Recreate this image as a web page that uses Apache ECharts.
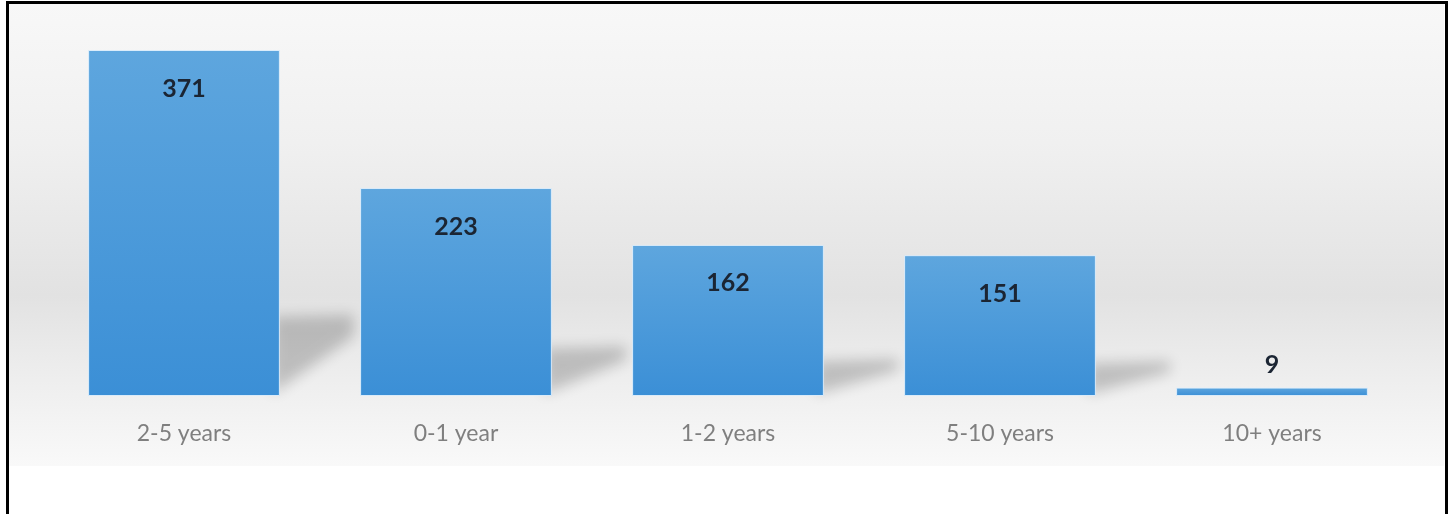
<!DOCTYPE html>
<html>
<head>
<meta charset="utf-8">
<script src="https://cdn.jsdelivr.net/npm/echarts@6/dist/echarts.min.js"></script>
<style>
  html, body { margin: 0; padding: 0; width: 1452px; height: 514px; overflow: hidden; background: #fff; }
  .frame {
    position: absolute; left: 6px; top: 1px; width: 1436px; height: 600px;
    border: 3px solid #000; box-sizing: content-box;
  }
  .panel {
    position: absolute; left: 9px; top: 4px; width: 1435px; height: 462px;
    background: linear-gradient(to bottom, #f8f8f8 0%, #f0f0f0 30%, #e2e2e2 63%, #ececec 78%, #f9f9f9 100%);
  }
  #chart { position: absolute; left: 0; top: 0; width: 1452px; height: 514px; }
</style>
</head>
<body>
<div class="panel"></div>
<div class="frame"></div>
<div id="chart"></div>
<script>
  // tenure buckets and counts
  const categories = ['2-5 years', '0-1 year', '1-2 years', '5-10 years', '10+ years'];
  const counts = [371, 223, 162, 151, 9];

  const chart = echarts.init(document.getElementById('chart'));

  // soft diagonal shadow to the right of each bar
  // (shape drawn off to the left, only its blurred shadow lands in place)
  const SHIFT = 3000;
  function renderShadow(params, api) {
    const val = api.value(1);
    const base = api.coord([api.value(0), 0]);
    const top = api.coord([api.value(0), val]);
    const bw = api.size([1, 0])[0] * 0.705;
    const xr = base[0] + bw / 2 - 8 - SHIFT;
    const h = base[1] - top[1];
    const sh = h * 0.23;
    if (sh < 6) return null;
    return {
      type: 'polygon',
      shape: {
        points: [
          [xr, base[1] - 2],
          [xr, base[1] - sh],
          [xr + 82, base[1] - sh - 2],
          [xr + 82, base[1] - sh * 0.75],
        ],
      },
      style: {
        fill: '#000',
        shadowBlur: 14,
        shadowColor: 'rgba(0,0,0,0.2)',
        shadowOffsetX: SHIFT,
      },
    };
  }

  chart.setOption({
    animation: false,
    grid: { left: 48, right: 44, top: 50, bottom: 118 },
    xAxis: {
      type: 'category',
      data: categories,
      axisLine: { show: false },
      axisTick: { show: false },
      axisLabel: {
        margin: 26,
        color: '#7f7f7f',
        fontSize: 23,
        fontFamily: 'Lato',
      },
    },
    yAxis: {
      type: 'value',
      min: 0,
      max: 371,
      show: false,
      splitLine: { show: false },
    },
    series: [
      {
        type: 'custom',
        renderItem: renderShadow,
        data: counts.map((v, i) => [i, v]),
        z: 1,
        silent: true,
        clip: false,
      },
      {
        type: 'bar',
        data: counts.map((v) => ({
          value: v,
          label: v < 40
            ? { position: 'top', distance: 10 }
            : { position: 'insideTop', distance: 26 },
        })),
        barWidth: '70.5%',
        z: 2,
        itemStyle: {
          color: new echarts.graphic.LinearGradient(0, 0, 0, 1, [
            { offset: 0, color: '#5ea6de' },
            { offset: 1, color: '#3b8fd6' },
          ]),
          borderColor: 'rgba(225,240,252,0.9)',
          borderWidth: 1,
        },
        label: {
          show: true,
          color: '#1b2533',
          fontSize: 25,
          fontWeight: 'bold',
          fontFamily: 'Lato',
        },
      },
    ],
  });
</script>
</body>
</html>
